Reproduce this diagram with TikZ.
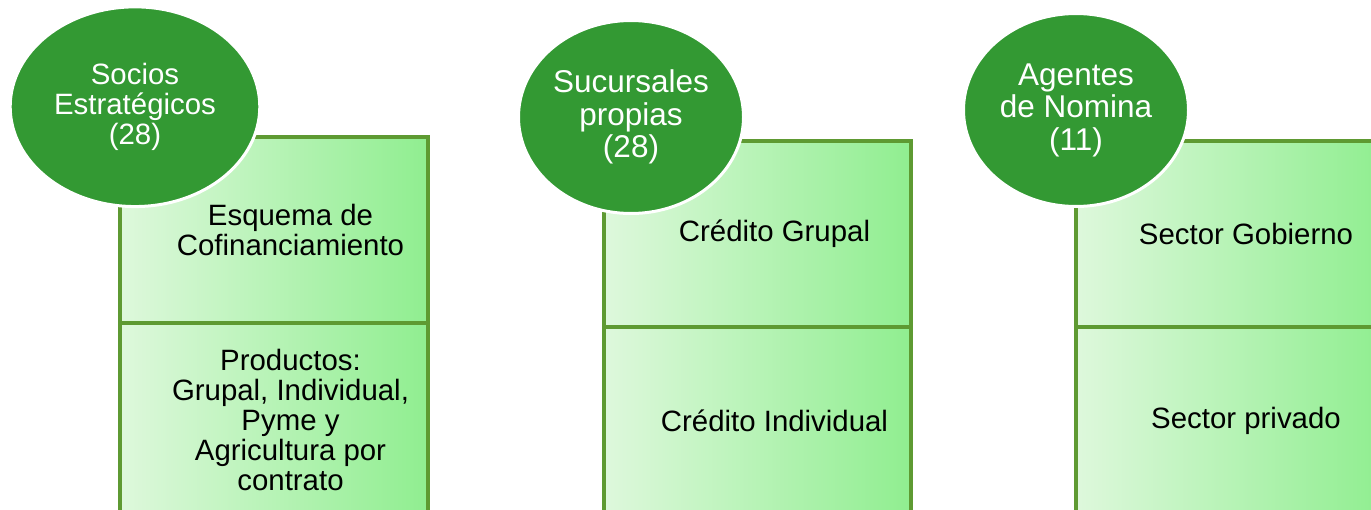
\documentclass[tikz,border=0pt]{standalone}
\usepackage{fontspec}
\setmainfont{Liberation Sans}
\usetikzlibrary{shapes.geometric}
\definecolor{ellgreen}{RGB}{51,153,51}
\definecolor{edgegreen}{RGB}{94,154,50}
\definecolor{cellleft}{RGB}{222,248,220}
\definecolor{cellright}{RGB}{144,238,144}
\begin{document}
\begin{tikzpicture}[x=1pt,y=-1pt,
  cell/.style={draw=edgegreen, line width=4pt, left color=cellleft, right color=cellright,
    inner sep=0pt, anchor=north west, minimum width=307pt},
  celltext/.style={align=center, text=black, inner sep=0pt,
    font=\fontsize{29.4}{30}\selectfont},
  oval/.style={ellipse, fill=ellgreen, draw=white, line width=3pt, inner sep=0pt,
    align=center, text=white},
  ovalsmall/.style={oval, font=\fontsize{29.4}{30}\selectfont},
  ovalbig/.style={oval, font=\fontsize{31.5}{32.5}\selectfont}]
\useasboundingbox (0,0) rectangle (1371,509);
\clip (0,0) rectangle (1371,509);
\fill[white] (0,0) rectangle (1371,509);

% group 1
\node[cell, minimum width=308pt, minimum height=186pt] (c1a) at (117.5,135) {};
\node[cell, minimum width=308pt, minimum height=190pt] (c1b) at (117.5,321) {};
\node[celltext] (t1a) at ([xshift=17pt]c1a.center) {Esquema de\\Cofinanciamiento};
\node[celltext] (t1b) at ([xshift=17pt,yshift=-2pt]c1b.center) {Productos:\\Grupal, Individual,\\Pyme y\\Agricultura por\\contrato};
\node[ovalsmall, minimum width=249.6pt, minimum height=199.7pt] (e1) at (135,106.7) {Socios\\Estratégicos\\(28)};

% group 2
\node[cell, minimum height=186.5pt] (c2a) at (602,138.5) {};
\node[cell, minimum height=188pt] (c2b) at (602,325) {};
\node[celltext] (t2a) at ([xshift=17pt]c2a.center) {Crédito Grupal};
\node[celltext] (t2b) at ([xshift=17pt]c2b.center) {Crédito Individual};
\node[ovalbig, minimum width=225pt, minimum height=193pt] (e2) at (631,117) {Sucursales\\propias\\(28)};

% group 3
\node[cell, minimum height=186.5pt] (c3a) at (1073.5,138.5) {};
\node[cell, minimum height=188pt] (c3b) at (1073.5,325) {};
\node[celltext] (t3a) at ([xshift=17pt]c3a.center) {Sector Gobierno};
\node[celltext] (t3b) at ([xshift=17pt]c3b.center) {Sector privado};
\node[ovalbig, minimum width=225pt, minimum height=193pt] (e3) at (1076,110) {Agentes\\de Nomina\\(11)};
\end{tikzpicture}
\end{document}
